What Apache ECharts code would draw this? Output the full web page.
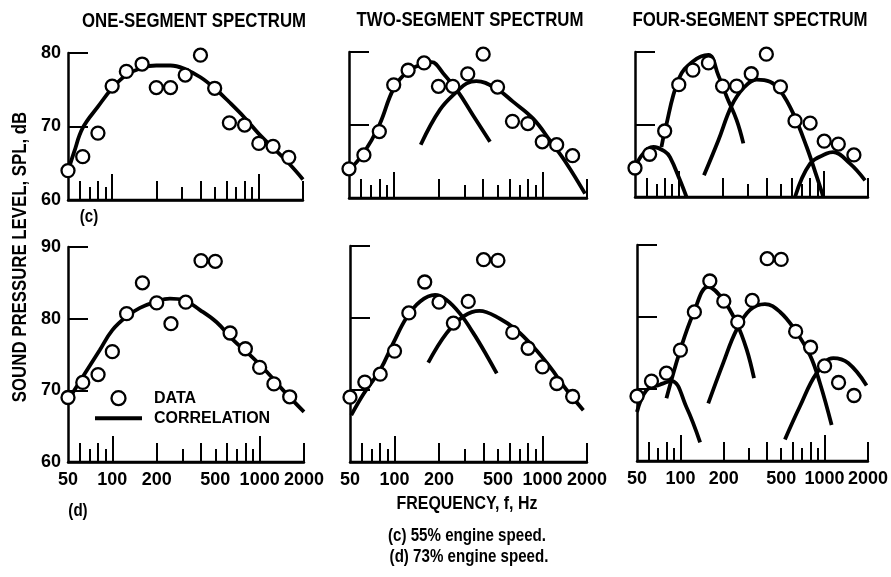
<!DOCTYPE html>
<html>
<head>
<meta charset="utf-8">
<script src="https://cdn.jsdelivr.net/npm/echarts@6/dist/echarts.min.js"></script>
<style>
  html, body { margin: 0; padding: 0; background: #fff; }
  #chart { width: 891px; height: 577px; }
</style>
</head>
<body>
<div id="chart"></div>
<script>
// one-third octave band centres, Hz
const bands = [50, 63, 80, 100, 125, 160, 200, 250, 315, 400, 500, 630, 800, 1000, 1250, 1600];
// measured SPL, dB
const splC = [64.0, 65.9, 69.1, 75.5, 77.5, 78.5, 75.3, 75.3, 77.0, 79.7, 75.2, 70.5, 70.2, 67.7, 67.3, 65.8]; // (c) 55%
const splD = [69.0, 71.1, 72.2, 75.4, 80.7, 85.0, 82.2, 79.3, 82.3, 88.1, 88.0, 78.0, 75.8, 73.2, 70.9, 69.1]; // (d) 73%

// correlation curves [f, dB]
const c1 = [[50, 63.9], [55, 66.5], [63, 69.8], [80, 72.7], [100, 75.2], [125, 77.0], [160, 78.0], [200, 78.3], [250, 78.3], [315, 77.8], [400, 76.7], [500, 75.2], [630, 73.3], [800, 71.2], [1000, 69.0], [1250, 67.1], [1600, 65.0], [2000, 62.8]];
const c2a = [[50, 63.8], [63, 66.2], [80, 70.0], [100, 75.0], [125, 77.4], [160, 78.4], [180, 78.6], [215, 77.1], [270, 74.6], [340, 71.4], [445, 67.7]];
const c2b = [[152, 67.3], [205, 72.1], [270, 74.7], [310, 75.7], [360, 76.0], [490, 75.0], [635, 73.2], [865, 70.9], [1125, 67.9], [1460, 64.7], [1940, 60.6]];
const c4a = [[50, 64.1], [57, 66.0], [67, 66.9], [80, 66.3], [87, 65.5], [102, 62.3], [113, 60.0]];
const c4b = [[76, 66.9], [80, 69.0], [100, 76.3], [125, 78.7], [160, 79.6], [187, 76.8], [214, 73.8], [250, 70.6], [278, 67.4]];
const c4c = [[149, 63.0], [187, 67.8], [231, 72.6], [278, 75.0], [343, 76.2], [424, 75.9], [497, 74.7], [613, 71.5], [758, 66.9], [889, 62.8], [986, 60.0]];
const c4d = [[630, 60.0], [800, 64.6], [1040, 66.0], [1150, 66.2], [1506, 64.6], [1909, 62.3]];

const d1 = [[50, 68.6], [63, 71.9], [82, 75.6], [100, 78.4], [125, 80.3], [154, 81.5], [194, 82.3], [246, 82.8], [303, 82.6], [394, 81.2], [511, 79.5], [663, 77.0], [861, 74.9], [1117, 72.6], [1447, 70.0], [2000, 67.0]];
const d2a = [[51, 66.5], [62, 69.5], [80, 72.8], [98, 76.5], [121, 80.1], [149, 82.3], [188, 83.2], [225, 82.5], [277, 80.6], [341, 77.9], [420, 74.8], [491, 72.3]];
const d2b = [[169, 73.8], [225, 77.9], [296, 80.3], [375, 81.0], [516, 79.9], [670, 78.3], [867, 76.0], [1124, 73.2], [1458, 70.0], [1890, 67.2]];
const d4a = [[50, 66.8], [58, 69.8], [72, 70.6], [87, 71.1], [110, 67.5], [137, 62.6]];
const d4b = [[80, 68.7], [99, 75.2], [123, 80.5], [156, 84.2], [198, 82.4], [245, 79.2], [288, 75.5], [324, 71.5]];
const d4c = [[156, 68.0], [198, 73.6], [245, 78.2], [304, 81.0], [386, 81.8], [491, 80.7], [623, 78.2], [792, 74.7], [929, 70.8], [1119, 65.0]];
const d4d = [[531, 63.0], [675, 67.6], [881, 72.2], [1148, 74.3], [1458, 73.6], [1955, 70.5]];

const xLabels = [50, 100, 200, 500, 1000, 2000];
const xTicksLong = [100, 1000];
const xTicksMid = [60, 80, 200, 400, 600, 800, 2000];
const xTicksShort = [70, 90, 300, 500, 700, 900];
const colTitles = ['ONE-SEGMENT SPECTRUM', 'TWO-SEGMENT SPECTRUM', 'FOUR-SEGMENT SPECTRUM'];

const font = '"Liberation Sans", Arial, sans-serif';

// grid boxes: left, top, width, height
const boxes = [
  [68, 53, 235, 147], [349, 52, 238, 146], [635, 52, 233, 145],
  [68, 247, 236, 215], [350, 246, 237, 216], [637, 245, 231, 216]
];
const panels = [
  { data: splC, curves: [c1], ymax: 80 },
  { data: splC, curves: [c2a, c2b], ymax: 80 },
  { data: splC, curves: [c4a, c4b, c4c, c4d], ymax: 80 },
  { data: splD, curves: [d1], ymax: 90 },
  { data: splD, curves: [d2a, d2b], ymax: 90 },
  { data: splD, curves: [d4a, d4b, d4c, d4d], ymax: 90 }
];

const grid = [], xAxis = [], yAxis = [], series = [];
panels.forEach((p, i) => {
  const b = boxes[i];
  const col = i % 3, bottomRow = i >= 3;
  grid.push({ left: b[0], top: b[1], width: b[2], height: b[3] });
  // max a hair past 2000 so the 2000 tick and label survive rounding
  const tickAxis = (vals, len, main) => ({
    type: 'log', logBase: 10, min: 50, max: 2000.5, gridIndex: i, position: 'bottom',
    axisLine: { show: main, onZero: false, lineStyle: { color: '#000', width: 2.5 } },
    axisTick: { show: true, inside: true, length: len, customValues: vals, lineStyle: { color: '#000', width: 2 } },
    axisLabel: {
      show: main && bottomRow, customValues: xLabels, margin: 9, color: '#000',
      fontSize: 18, fontWeight: 'bold', fontFamily: font, formatter: v => String(Math.round(v))
    },
    splitLine: { show: false }, minorTick: { show: false }
  });
  xAxis.push(tickAxis(xTicksLong, 26, true));
  xAxis.push(tickAxis(xTicksMid, 19, false));
  xAxis.push(tickAxis(xTicksShort, 13, false));
  yAxis.push({
    type: 'value', gridIndex: i, min: 60, max: p.ymax, interval: 10,
    axisLine: { show: true, onZero: false, lineStyle: { color: '#000', width: 2.5 } },
    axisTick: { show: true, inside: true, length: 20, lineStyle: { color: '#000', width: 2 } },
    axisLabel: { show: col === 0, margin: 7, color: '#000', fontSize: 18, fontWeight: 'bold', fontFamily: font },
    splitLine: { show: false }
  });
  p.curves.forEach(c => {
    series.push({
      name: 'CORRELATION', type: 'line', xAxisIndex: i * 3, yAxisIndex: i,
      data: c, smooth: 0.4, symbol: 'none', showSymbol: false, z: 2,
      lineStyle: { color: '#000', width: 3.8 }, itemStyle: { color: '#000' }
    });
  });
  series.push({
    name: 'DATA', type: 'scatter', xAxisIndex: i * 3, yAxisIndex: i,
    data: bands.map((f, k) => [f, p.data[k]]), symbol: 'circle', symbolSize: 13, z: 5,
    itemStyle: { color: '#fff', borderColor: '#000', borderWidth: 2.3, opacity: 1 }
  });
});

const txt = (text, x, y, size, extra) => Object.assign({
  type: 'text', x: x, y: y, scaleX: 0.84,
  style: { text: text, fill: '#000', fontSize: size, fontWeight: 'bold', fontFamily: font, align: 'center', verticalAlign: 'middle' }
}, extra || {});

const graphic = [
  txt(colTitles[0], 194, 21, 20),
  txt(colTitles[1], 470, 20, 20),
  txt(colTitles[2], 750, 20, 20),
  txt('SOUND PRESSURE LEVEL, SPL, dB', 20, 257, 20, { rotation: Math.PI / 2 }),
  txt('(c)', 89, 217, 18),
  txt('(d)', 78, 511, 18),
  txt('FREQUENCY, f, Hz', 467, 504, 19),
  txt('(c) 55% engine speed.', 467, 536, 18),
  txt('(d) 73% engine speed.', 469, 557, 18)
];

const chart = echarts.init(document.getElementById('chart'));
chart.setOption({
  backgroundColor: '#fff',
  animation: false,
  grid: grid,
  xAxis: xAxis,
  yAxis: yAxis,
  legend: {
    left: 90, top: 385, orient: 'vertical', itemWidth: 47, itemHeight: 14, itemGap: 4,
    data: [
      { name: 'DATA', icon: 'circle', itemStyle: { color: '#fff', borderColor: '#000', borderWidth: 2.3 } },
      { name: 'CORRELATION', icon: 'path://M0,0L47,0L47,4L0,4Z', itemStyle: { color: '#000', borderWidth: 0 } }
    ],
    textStyle: { color: '#000', fontSize: 16, fontWeight: 'bold', fontFamily: font, padding: [0, 0, 0, 7] },
    selectedMode: false
  },
  graphic: graphic,
  series: series
});

// frequency baselines placed through each panel's own scales
try {
  const baselines = panels.map((p, i) => {
    const finder = { xAxisIndex: i * 3, yAxisIndex: i };
    const a = chart.convertToPixel(finder, [50, 60]);
    const b = chart.convertToPixel(finder, [2000, 60]);
    return {
      type: 'line', z: 100, silent: true,
      shape: { x1: a[0], y1: a[1], x2: b[0], y2: b[1] },
      style: { stroke: '#000', lineWidth: 2.5 }
    };
  });
  chart.setOption({ graphic: graphic.concat(baselines) });
} catch (e) {
  console.error(e);
}
</script>
</body>
</html>
